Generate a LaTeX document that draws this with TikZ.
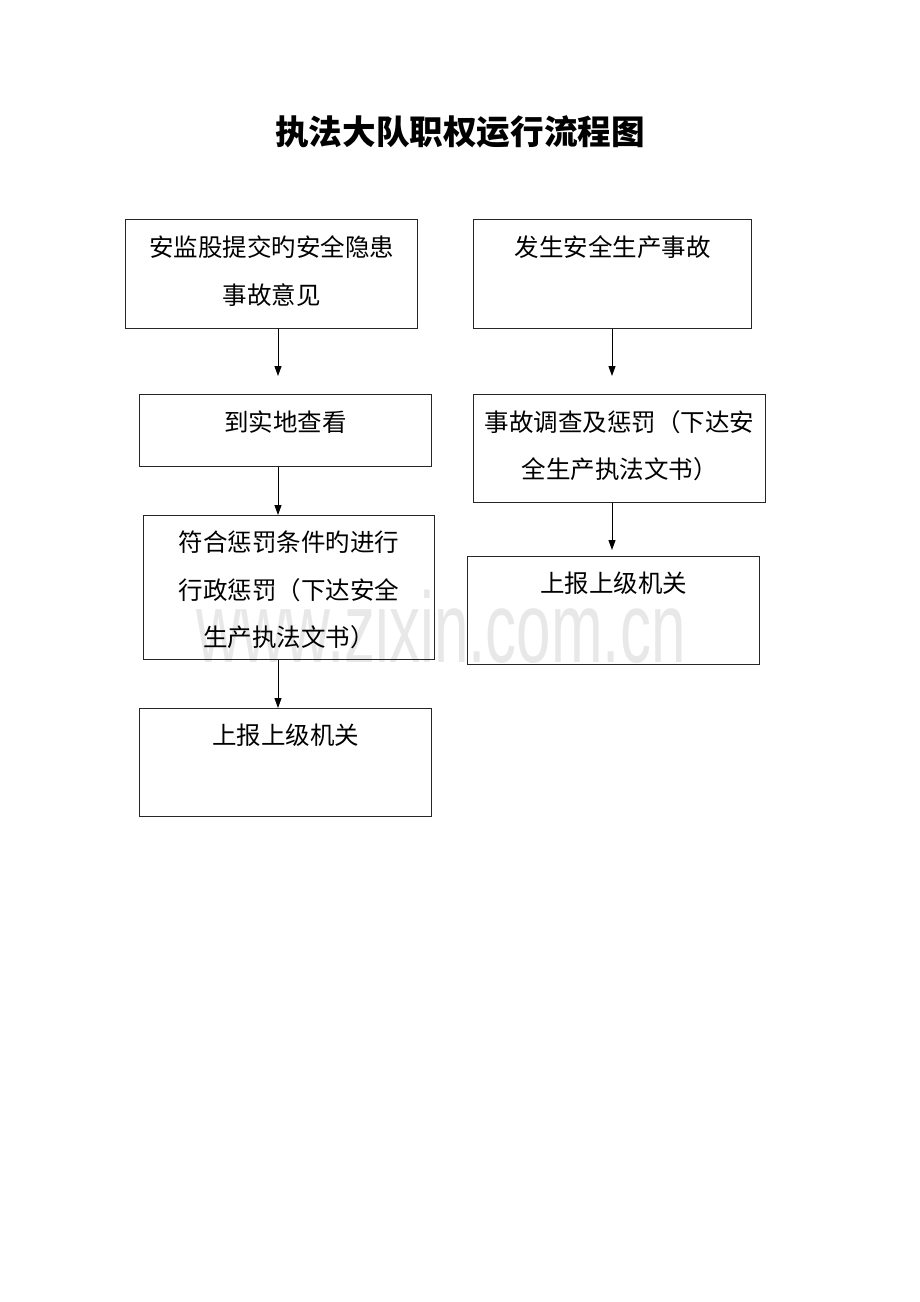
\documentclass[tikz,border=0pt]{standalone}
\usepackage{fontspec}
\usepackage{graphicx}
\usetikzlibrary{arrows.meta}
\newfontfamily\cjk{Noto Sans CJK SC}
\newfontfamily\wmfont{Liberation Sans}
\tikzset{
  box/.style={draw=black!85, line width=1pt, rectangle, inner sep=0pt, anchor=north west},
  txt/.style={font=\cjk\fontsize{24.5}{47.5}\selectfont, inner sep=0pt, anchor=base, text=black},
  arr/.style={draw=black, line width=1pt, -{Triangle[width=7pt,length=10pt]}},
}
\begin{document}
\begin{tikzpicture}[x=1pt,y=-1pt]
\useasboundingbox[fill=white] (0,0) rectangle (920,1302);
% watermark
\node[inner sep=0pt, anchor=base, text=black!9, font=\wmfont\fontsize{100}{100}\selectfont] (wm) at (441,662) {\scalebox{0.62}[1]{www.zixin.com.cn}};
% title
\node[inner sep=0pt, anchor=base, font=\cjk\bfseries\fontsize{33.6}{40}\selectfont] (title) at (460,144) {执法大队职权运行流程图};
% left column boxes
\node[box, minimum width=292pt, minimum height=109pt] (L1) at (125,219) {};
\node[box, minimum width=292pt, minimum height=72pt] (L2) at (139,394) {};
\node[box, minimum width=291pt, minimum height=144pt] (L3) at (143,515) {};
\node[box, minimum width=292pt, minimum height=108pt] (L4) at (139,708) {};
% right column boxes
\node[box, minimum width=278pt, minimum height=109pt] (R1) at (473,219) {};
\node[box, minimum width=292pt, minimum height=108pt] (R2) at (473,394) {};
\node[box, minimum width=292pt, minimum height=108pt] (R3) at (467,556) {};
% texts
\node[txt] (L1a) at ([yshift=-37pt]L1.north) {安监股提交旳安全隐患};
\node[txt] (L1b) at ([yshift=-85pt]L1.north) {事故意见};
\node[txt] (L2a) at ([yshift=-37pt]L2.north) {到实地查看};
\node[txt] (L3a) at ([yshift=-36.5pt]L3.north) {符合惩罚条件旳进行};
\node[txt] (L3b) at ([yshift=-84pt]L3.north) {行政惩罚（下达安全};
\node[txt] (L3c) at ([yshift=-131.5pt]L3.north) {生产执法文书）};
\node[txt] (L4a) at ([yshift=-36.5pt]L4.north) {上报上级机关};
\node[txt] (R1a) at ([yshift=-37pt]R1.north) {发生安全生产事故};
\node[txt] (R2a) at ([yshift=-37pt]R2.north) {事故调查及惩罚（下达安};
\node[txt] (R2b) at ([yshift=-84.5pt]R2.north) {全生产执法文书）};
\node[txt] (R3a) at ([yshift=-36.5pt]R3.north) {上报上级机关};
% arrow coordinates
\coordinate (la) at (278,376);
\coordinate (ra) at (612,376);
\coordinate (rb) at (612,550);
\draw[arr] (L1.south -| la) -- (la);
\draw[arr] (L2.south -| la) -- (L3.north -| la);
\draw[arr] (L3.south -| la) -- (L4.north -| la);
\draw[arr] (R1.south -| ra) -- (ra);
\draw[arr] (R2.south -| rb) -- (rb);
\end{tikzpicture}
\end{document}
